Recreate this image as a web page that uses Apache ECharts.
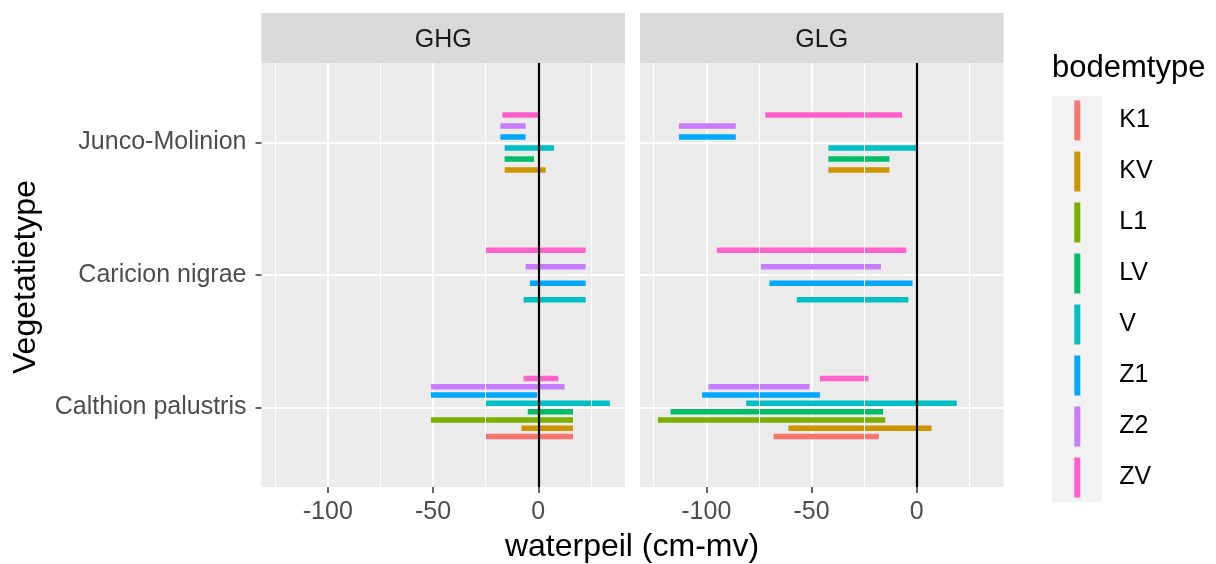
<!DOCTYPE html>
<html>
<head>
<meta charset="utf-8">
<script src="https://cdn.jsdelivr.net/npm/echarts@6/dist/echarts.min.js"></script>
<style>
  html, body { margin: 0; padding: 0; background: #fff; }
  #chart { width: 1216px; height: 564px; }
</style>
</head>
<body>
<div id="chart"></div>
<script>
// vegetation types, bottom to top (y = 1, 2, 3)
const categories = ['Calthion palustris', 'Caricion nigrae', 'Junco-Molinion'];
const soilTypes = ['K1', 'KV', 'L1', 'LV', 'V', 'Z1', 'Z2', 'ZV'];
const panels = ['GHG', 'GLG'];

// [vegetatietype, bodemtype, low, high] in cm-mv
const ghgRanges = [
  ['Junco-Molinion', 'KV', -16, 3.5],
  ['Junco-Molinion', 'LV', -16, -2],
  ['Junco-Molinion', 'V', -16, 7.5],
  ['Junco-Molinion', 'Z1', -18, -6],
  ['Junco-Molinion', 'Z2', -18, -6],
  ['Junco-Molinion', 'ZV', -17, 0],
  ['Caricion nigrae', 'V', -7, 22.5],
  ['Caricion nigrae', 'Z1', -4, 22.5],
  ['Caricion nigrae', 'Z2', -6, 22.5],
  ['Caricion nigrae', 'ZV', -25, 22.5],
  ['Calthion palustris', 'K1', -25, 16.5],
  ['Calthion palustris', 'KV', -8, 16.5],
  ['Calthion palustris', 'L1', -51, 16.5],
  ['Calthion palustris', 'LV', -5, 16.5],
  ['Calthion palustris', 'V', -25, 34],
  ['Calthion palustris', 'Z1', -51, -0.5],
  ['Calthion palustris', 'Z2', -51, 12.5],
  ['Calthion palustris', 'ZV', -7, 9.5]
];

const glgRanges = [
  ['Junco-Molinion', 'KV', -42, -13],
  ['Junco-Molinion', 'LV', -42, -13],
  ['Junco-Molinion', 'V', -42, 0.5],
  ['Junco-Molinion', 'Z1', -113, -86],
  ['Junco-Molinion', 'Z2', -113, -86],
  ['Junco-Molinion', 'ZV', -72, -7],
  ['Caricion nigrae', 'V', -57, -4],
  ['Caricion nigrae', 'Z1', -70, -2],
  ['Caricion nigrae', 'Z2', -74, -17],
  ['Caricion nigrae', 'ZV', -95, -5],
  ['Calthion palustris', 'K1', -68, -18],
  ['Calthion palustris', 'KV', -61, 7],
  ['Calthion palustris', 'L1', -123, -15],
  ['Calthion palustris', 'LV', -117, -16],
  ['Calthion palustris', 'V', -81, 19],
  ['Calthion palustris', 'Z1', -102, -46],
  ['Calthion palustris', 'Z2', -99, -51],
  ['Calthion palustris', 'ZV', -46, -23]
];

const xTicks = [-100, -50, 0];
const xMinorLines = [-125, -75, -25, 25];
const yTicks = [1, 2, 3];
const zeroLine = [0];

const palette = ['#F8766D', '#CD9600', '#7CAE00', '#00BE67', '#00BFC4', '#00A9FF', '#C77CFF', '#FF61CC'];
const font = 'Liberation Sans, Arial, sans-serif';

const gridBoxes = [
  { left: 261.5, top: 63, width: 363.5, height: 424 },
  { left: 640, top: 63, width: 363.5, height: 424 }
];
const barThick = 5.5;
const dodgeWidth = 0.5;

// position_dodge: spread the present soil types of one category over dodgeWidth
const dodge = (rows) => rows.map((r) => {
  const present = rows.filter((o) => o[0] === r[0]).map((o) => o[1])
    .sort((a, b) => soilTypes.indexOf(a) - soilTypes.indexOf(b));
  const n = present.length;
  const i = present.indexOf(r[1]);
  const y = categories.indexOf(r[0]) + 1 - dodgeWidth / 2 + (i + 0.5) * dodgeWidth / n;
  return { soil: r[1], value: [r[2], r[3], y] };
});

const renderRange = (params, api) => {
  const a = api.coord([api.value(0), api.value(2)]);
  const b = api.coord([api.value(1), api.value(2)]);
  return {
    type: 'rect',
    shape: { x: a[0], y: a[1] - barThick / 2, width: b[0] - a[0], height: barThick },
    style: { fill: api.visual('color') }
  };
};

const series = [];
[ghgRanges, glgRanges].forEach((rows, p) => {
  const placed = dodge(rows);
  // minor vertical grid lines
  series.push({
    type: 'line', data: [], xAxisIndex: p, yAxisIndex: p, z: 1, silent: true,
    markLine: {
      silent: true, symbol: ['none', 'none'], label: { show: false },
      lineStyle: { color: '#FFFFFF', width: 1, type: 'solid' },
      emphasis: { disabled: true },
      data: xMinorLines.map((v) => ({ xAxis: v }))
    }
  });
  soilTypes.forEach((s, k) => {
    series.push({
      name: s,
      type: 'custom',
      xAxisIndex: p,
      yAxisIndex: p,
      z: 3,
      itemStyle: { color: palette[k] },
      encode: { x: [0, 1], y: 2 },
      renderItem: renderRange,
      data: placed.filter((d) => d.soil === s).map((d) => d.value)
    });
  });
  // geom_vline at 0
  series.push({
    type: 'line', data: [], xAxisIndex: p, yAxisIndex: p, z: 5, silent: true,
    markLine: {
      silent: true, symbol: ['none', 'none'], label: { show: false },
      lineStyle: { color: '#000000', width: 2.2, type: 'solid' },
      emphasis: { disabled: true },
      data: zeroLine.map((v) => ({ xAxis: v }))
    }
  });
});

const graphics = [];
gridBoxes.forEach((g, p) => {
  graphics.push({
    type: 'rect', z: 0,
    shape: { x: g.left, y: 13, width: g.width, height: 50 },
    style: { fill: '#D9D9D9' }
  });
  graphics.push({
    type: 'text', z: 1,
    style: {
      text: panels[p], x: g.left + g.width / 2, y: 40,
      textAlign: 'center', textVerticalAlign: 'middle',
      font: '25px ' + font, fill: '#1A1A1A'
    }
  });
});
graphics.push({
  type: 'text',
  style: {
    text: 'waterpeil (cm-mv)', x: 632, y: 547,
    textAlign: 'center', textVerticalAlign: 'middle',
    font: '32px ' + font, fill: '#000000'
  }
});
graphics.push({
  type: 'text', rotation: Math.PI / 2, x: 26, y: 277,
  style: {
    text: 'Vegetatietype', x: 0, y: 0,
    textAlign: 'center', textVerticalAlign: 'middle',
    font: '32px ' + font, fill: '#000000'
  }
});
graphics.push({
  type: 'text',
  style: {
    text: 'bodemtype', x: 1052, y: 68,
    textAlign: 'left', textVerticalAlign: 'middle',
    font: '31px ' + font, fill: '#000000'
  }
});
graphics.push({
  type: 'rect', z: -1,
  shape: { x: 1052, y: 96, width: 50, height: 406 },
  style: { fill: '#F2F2F2' }
});

const chart = echarts.init(document.getElementById('chart'), null, { renderer: 'canvas' });
chart.setOption({
  animation: false,
  backgroundColor: '#FFFFFF',
  textStyle: { fontFamily: font },
  grid: gridBoxes.map((g) => ({
    left: g.left, top: g.top, width: g.width, height: g.height,
    show: true, backgroundColor: '#EBEBEB', borderWidth: 0, containLabel: false
  })),
  xAxis: gridBoxes.map((g, p) => ({
    type: 'value', gridIndex: p, min: -131.5, max: 41.2,
    axisLine: { show: false, onZero: false },
    axisTick: { show: true, customValues: xTicks, length: 6, lineStyle: { color: '#333333', width: 1.5 } },
    axisLabel: { customValues: xTicks, color: '#4D4D4D', fontSize: 25, margin: 13, fontFamily: font },
    splitLine: { show: true, lineStyle: { color: '#FFFFFF', width: 2 } }
  })),
  yAxis: gridBoxes.map((g, p) => ({
    type: 'value', gridIndex: p, min: 0.4, max: 3.6,
    axisLine: { show: false, onZero: false },
    axisTick: { show: p === 0, customValues: yTicks, length: 6, lineStyle: { color: '#333333', width: 1.5 } },
    axisLabel: {
      show: p === 0, customValues: yTicks, color: '#4D4D4D', fontSize: 25, margin: 15, fontFamily: font,
      padding: [5, 0, 0, 0],
      formatter: (v) => categories[Math.round(v) - 1]
    },
    splitLine: { show: true, lineStyle: { color: '#FFFFFF', width: 2 } }
  })),
  legend: {
    data: soilTypes,
    orient: 'vertical',
    left: 1074.3,
    top: 100.5,
    padding: 0,
    itemWidth: 6,
    itemHeight: 40,
    itemGap: 11,
    icon: 'rect',
    selectedMode: false,
    textStyle: { fontSize: 25, color: '#000000', fontFamily: font, padding: [0, 0, 0, 34] }
  },
  graphic: graphics,
  series: series
});
</script>
</body>
</html>
